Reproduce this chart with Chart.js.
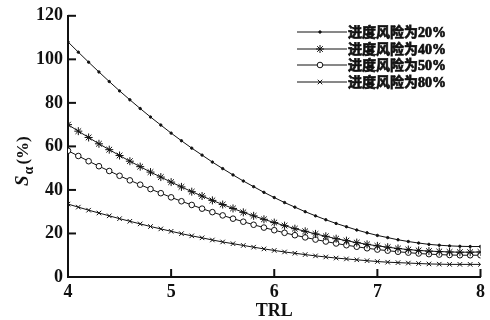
<!DOCTYPE html>
<html>
<head>
<meta charset="utf-8">
<script src="https://cdn.jsdelivr.net/npm/chart.js@4"></script>
<style>
  html, body { margin: 0; padding: 0; background: #fff; }
  #wrap { width: 490px; height: 320px; position: relative; }
</style>
</head>
<body>
<div id="wrap"><canvas id="chart"></canvas></div>
<script>
// TRL values, one step of 0.1 from 4 to 8
const trl = [];
for (let i = 0; i <= 40; i++) trl.push(+(4 + i / 10).toFixed(1));

const seriesLabels = ['进度风险为20%', '进度风险为40%', '进度风险为50%', '进度风险为80%'];

// values (S_alpha, %)
const risk20 = [108, 103.3, 98.7, 94.2, 89.8, 85.5, 81.4, 77.4, 73.5, 69.8,
  66.1, 62.6, 59.2, 56.0, 52.8, 49.8, 46.9, 44.1, 41.5, 38.9,
  36.5, 34.2, 32.1, 30.0, 28.1, 26.3, 24.6, 23.1, 21.6, 20.3,
  19.1, 18.1, 17.1, 16.3, 15.6, 15.0, 14.6, 14.3, 14.1, 14.0, 14.0];
const risk40 = [70, 67.0, 64.1, 61.2, 58.5, 55.8, 53.2, 50.7, 48.2, 45.9,
  43.6, 41.4, 39.2, 37.2, 35.2, 33.3, 31.5, 29.7, 28.1, 26.5,
  25.0, 23.6, 22.2, 21.0, 19.8, 18.7, 17.6, 16.7, 15.8, 15.0,
  14.3, 13.7, 13.1, 12.6, 12.2, 11.9, 11.7, 11.5, 11.4, 11.4, 11.5];
const risk50 = [58, 55.6, 53.2, 50.9, 48.7, 46.5, 44.4, 42.4, 40.4, 38.5,
  36.6, 34.8, 33.1, 31.4, 29.8, 28.3, 26.8, 25.4, 24.0, 22.7,
  21.5, 20.3, 19.2, 18.2, 17.2, 16.3, 15.4, 14.6, 13.9, 13.2,
  12.6, 12.1, 11.6, 11.2, 10.8, 10.5, 10.3, 10.1, 10.0, 10.0, 10.0];
const risk80 = [33.5, 32.1, 30.7, 29.4, 28.1, 26.8, 25.6, 24.4, 23.2, 22.1,
  21.0, 19.9, 18.9, 18.0, 17.0, 16.1, 15.3, 14.5, 13.7, 12.9,
  12.2, 11.5, 10.9, 10.3, 9.7, 9.2, 8.7, 8.3, 7.9, 7.5,
  7.1, 6.8, 6.6, 6.4, 6.2, 6.0, 5.9, 5.8, 5.8, 5.8, 5.8];

const xTicks = [4, 5, 6, 7, 8];
const yTicks = [0, 20, 40, 60, 80, 100, 120];

const serif = '"Liberation Serif", "Noto Sans CJK SC", serif';
const cjk = '"Liberation Serif", "Noto Sans CJK SC", sans-serif';

const markers = [
  { pointStyle: 'circle', pointRadius: 1.2, pointBackgroundColor: '#111' },
  { pointStyle: 'star', pointRadius: 4, pointBackgroundColor: '#111' },
  { pointStyle: 'circle', pointRadius: 2.8, pointBackgroundColor: '#fff' },
  { pointStyle: 'crossRot', pointRadius: 3.2, pointBackgroundColor: '#111' }
];
const allSeries = [risk20, risk40, risk50, risk80];

const datasets = allSeries.map((vals, i) => ({
  label: seriesLabels[i],
  data: vals.map((v, j) => ({ x: trl[j], y: v })),
  borderColor: '#111',
  borderWidth: 1,
  pointBorderColor: '#111',
  pointBorderWidth: 1,
  pointStyle: markers[i].pointStyle,
  pointRadius: markers[i].pointRadius,
  pointBackgroundColor: markers[i].pointBackgroundColor,
  tension: 0
}));

// inward ticks, axis titles and the legend
const decor = {
  id: 'decor',
  afterDraw(chart) {
    const ctx = chart.ctx;
    const xs = chart.scales.x, ys = chart.scales.y;
    const area = chart.chartArea;
    ctx.save();
    ctx.strokeStyle = '#111';
    ctx.lineWidth = 2;
    yTicks.forEach(v => {
      const y = ys.getPixelForValue(v);
      ctx.beginPath(); ctx.moveTo(area.left, y); ctx.lineTo(area.left + 8, y); ctx.stroke();
    });
    xTicks.forEach(v => {
      const x = xs.getPixelForValue(v);
      ctx.beginPath(); ctx.moveTo(x, area.bottom); ctx.lineTo(x, area.bottom - 8); ctx.stroke();
    });

    // x title
    ctx.fillStyle = '#111';
    ctx.font = 'bold 18px ' + serif;
    ctx.textAlign = 'center';
    ctx.textBaseline = 'alphabetic';
    ctx.fillText('TRL', (area.left + area.right) / 2, 316);

    // y title S_α (%)
    ctx.translate(28, 150);
    ctx.rotate(-Math.PI / 2);
    ctx.textAlign = 'left';
    ctx.font = 'italic bold 19px ' + serif;
    let x0 = -36;
    ctx.fillText('S', x0, 0);
    x0 += ctx.measureText('S').width + 1;
    ctx.font = 'bold 14px ' + serif;
    ctx.fillText('α', x0, 5);
    x0 += ctx.measureText('α').width + 2;
    ctx.font = 'bold 17px ' + serif;
    ctx.fillText('(%)', x0, 0);
    ctx.setTransform(1, 0, 0, 1, 0, 0);

    // legend
    const rows = [32, 49, 65, 82];
    chart.data.datasets.forEach((ds, i) => {
      const y = rows[i];
      ctx.strokeStyle = '#111';
      ctx.lineWidth = 1;
      ctx.beginPath(); ctx.moveTo(297, y); ctx.lineTo(347, y); ctx.stroke();
      ctx.fillStyle = ds.pointBackgroundColor;
      Chart.helpers.drawPoint(ctx, {
        pointStyle: ds.pointStyle, radius: ds.pointRadius, rotation: 0, borderWidth: 1
      }, 320, y);
      ctx.fillStyle = '#111';
      ctx.font = 'bold 14px ' + cjk;
      ctx.textAlign = 'left';
      ctx.textBaseline = 'middle';
      ctx.lineWidth = 0.7;
      ctx.strokeText(ds.label, 348, y + 1);
      ctx.fillText(ds.label, 348, y + 1);
    });
    ctx.restore();
  }
};

new Chart(document.getElementById('chart'), {
  type: 'line',
  data: { datasets: datasets },
  options: {
    responsive: true,
    maintainAspectRatio: false,
    animation: false,
    layout: { autoPadding: false, padding: { left: 0, right: 8, top: 15, bottom: 0 } },
    plugins: { legend: { display: false }, tooltip: { enabled: false } },
    scales: {
      x: {
        type: 'linear', min: 4, max: 8,
        afterFit: s => { s.height = 43; },
        afterBuildTicks: s => { s.ticks = xTicks.map(v => ({ value: v })); },
        grid: { display: false, drawTicks: false },
        border: { display: true, color: '#111', width: 2 },
        ticks: { color: '#111', padding: 5, font: { family: serif, size: 18, weight: 'bold' } }
      },
      y: {
        min: 0, max: 120,
        afterFit: s => { s.width = 68; },
        afterBuildTicks: s => { s.ticks = yTicks.map(v => ({ value: v })); },
        grid: { display: false, drawTicks: false },
        border: { display: true, color: '#111', width: 2 },
        ticks: { color: '#111', padding: 5, font: { family: serif, size: 18, weight: 'bold' } }
      }
    }
  },
  plugins: [decor]
});
</script>
</body>
</html>
